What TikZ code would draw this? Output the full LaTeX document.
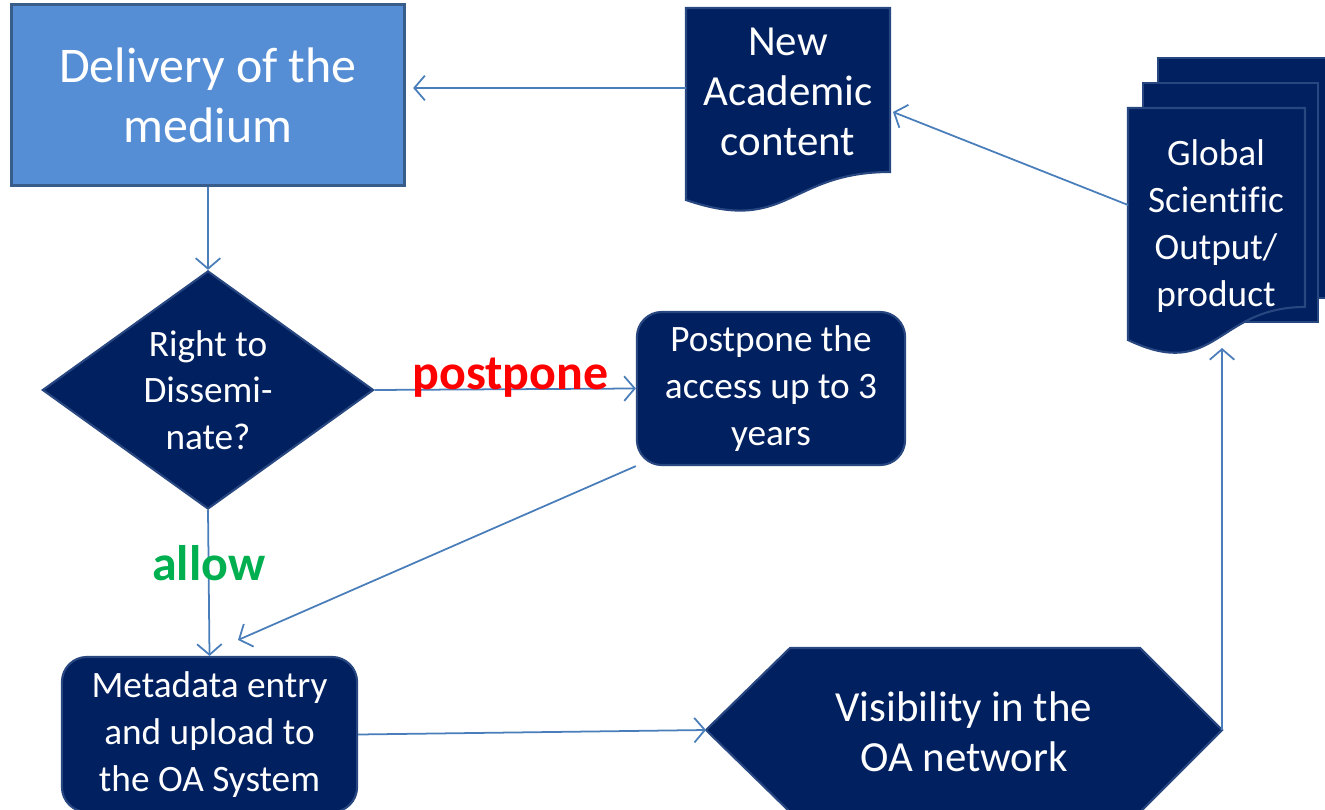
\documentclass[tikz,border=0pt]{standalone}
\usepackage{fontspec}
\setmainfont{Carlito}[Ligatures = NoCommon]
\usepackage{tikz}
\usetikzlibrary{arrows.meta}
\usetikzlibrary{positioning}
\usetikzlibrary{calc}
\usetikzlibrary{shapes.geometric}
\definecolor{navy}{RGB}{0,32,96}
\definecolor{navyedge}{RGB}{40,70,128}
\definecolor{skyfill}{RGB}{85,142,213}
\definecolor{skyedge}{RGB}{56,93,138}
\definecolor{arrowblue}{RGB}{74,126,187}
\definecolor{allowgreen}{RGB}{0,176,80}
\newcommand{\fsBig}{\fontsize{14.2pt}{17.1pt}\selectfont}
\newcommand{\fsMid}{\fontsize{12.2pt}{14.2pt}\selectfont}
\newcommand{\fsSmall}{\fontsize{10.6pt}{13.3pt}\selectfont}
\tikzstyle{flow} = [line width = 0.5pt, draw = arrowblue, -{Straight Barb[length = 3pt, width = 7pt]}]
\tikzstyle{pixels} = [x = {(0.01cm, 0cm)}, y = {(0cm, -0.01cm)}]

\begin{document}
\begin{tikzpicture}[pixels]
	% Styles
	\tikzstyle{box} = [line width = 0.6pt, fill = navy, draw = navyedge]
	\tikzstyle{process} = [box, rectangle, rounded corners = 0.25cm, text = white, align = center, font = \fsSmall, inner sep = 0pt]
	\tikzstyle{decision} = [box, diamond, aspect = 1.39, minimum width = 3.31cm, minimum height = 2.38cm, text = white, align = center, font = \fsSmall, inner sep = 0pt]
	\tikzstyle{caption} = [text = white, align = center, inner sep = 0pt]
	\tikzstyle{verdict} = [font = {\fsBig\bfseries}, inner sep = 0pt, anchor = base]
	% Frame
	\useasboundingbox (0, 0) rectangle (1325, 810);
	\clip (0, 0) rectangle (1325, 810);
	% Delivery of the medium
	\node[rectangle, fill = skyfill, draw = skyedge, line width = 0.85pt, minimum width = 3.93cm, minimum height = 1.8cm, text = white, align = center, font = \fsBig, inner sep = 0pt] (deliv) at (208, 95) {Delivery of the\\medium};
	% New academic content
	\coordinate (newtl) at (686, 8);
	\draw[box] (newtl) -- (890, 8) -- (890, 172) .. controls (788, 172) and (788, 235) .. (686, 200) -- cycle;
	\node[caption, font = \fsMid] (newtxt) at (788, 92) {New\\Academic\\content};
	% Global scientific output
	\draw[box] (1158, 58) rectangle (1340, 298);
	\draw[box] (1143, 83) rectangle (1318, 322);
	\draw[box] (1128, 108) -- (1305, 108) -- (1305, 307) .. controls (1216, 307) and (1216, 382) .. (1128, 340) -- cycle;
	\node[caption, font = \fsSmall] (globtxt) at (1216, 226) {Global\\Scientific\\Output/\\product};
	% Decision and steps
	\node[decision] (dissem) at (208, 390) {Right to\\Dissemi-\\nate?};
	\node[process, minimum width = 2.68cm, minimum height = 1.53cm] (post) at (771, 388.5) {Postpone the\\access up to 3\\years};
	\node[process, minimum width = 2.95cm, minimum height = 1.55cm] (meta) at (209.5, 734.5) {Metadata entry\\and upload to\\the OA System};
	% Visibility
	\coordinate (hexl) at (706, 730);
	\coordinate (hexr) at (1222, 730);
	\draw[box] (hexl) -- (790, 648) -- (1140, 648) -- (hexr) -- (1140, 812) -- (790, 812) -- cycle;
	\node[caption, font = \fsMid] (vistxt) at (964, 732) {Visibility in the\\OA network};
	% Connectors
	\coordinate (newin) at (686, 88);
	\draw[flow, shorten > = 2pt] (newin) -- (deliv.east |- newin);
	\coordinate (globout) at (1128, 205);
	\coordinate (newside) at (893, 112);
	\draw[flow] (globout) -- (newside);
	\draw[flow] (deliv.south) -- (dissem.north);
	\draw[flow] (dissem.east) -- (post.west) node[verdict, text = red, pos = 0.52] {postpone};
	\draw[flow] (dissem.south) -- (meta.north) node[verdict, text = allowgreen, pos = 0.48] {allow};
	\coordinate (metatop) at (238, 640);
	\draw[flow] (post.south west) -- (metatop);
	\draw[flow] (meta.east) -- (hexl);
	\coordinate (globin) at (1222, 348);
	\draw[flow] (hexr) -- (globin);
\end{tikzpicture}
\end{document}
